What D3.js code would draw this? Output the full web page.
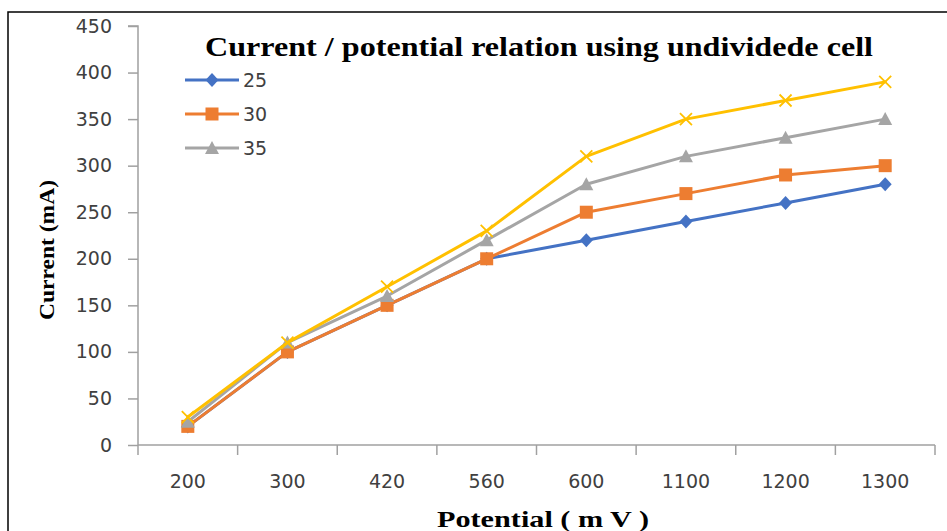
<!DOCTYPE html>
<html><head><meta charset="utf-8">
<script src="https://cdn.jsdelivr.net/npm/d3@7"></script>
<style>body{margin:0;background:#fff;} svg{display:block;}</style>
</head><body>
<svg id="chart" width="947" height="531"></svg>
<script>
const categories = ["200","300","420","560","600","1100","1200","1300"];
const series25 = [20,100,150,200,220,240,260,280];
const series30 = [20,100,150,200,250,270,290,300];
const series35 = [25,110,160,220,280,310,330,350];
const series40 = [30,110,170,230,310,350,370,390];
const yTicks = [0,50,100,150,200,250,300,350,400,450];
const legendNames = ["25","30","35"];

const seriesList = [
  {name:"25", values:series25, color:"#4472C4", marker:"diamond", legend:true},
  {name:"30", values:series30, color:"#ED7D31", marker:"square", legend:true},
  {name:"35", values:series35, color:"#A5A5A5", marker:"triangle", legend:true},
  {name:"40", values:series40, color:"#FFC000", marker:"x", legend:false}
];

const svg = d3.select("#chart");
svg.append("rect").attr("x",8).attr("y",12).attr("width",960).attr("height",540)
  .attr("fill","#fff").attr("stroke","#000").attr("stroke-width",1.5);

const x = d3.scaleBand().domain(categories).range([138,935]).paddingInner(0).paddingOuter(0);
const y = d3.scaleLinear().domain([0,450]).range([445,26]);
const cx = c => x(c) + x.bandwidth()/2;

const axisColor = "#a0a0a0";
// Y axis
const yAxis = d3.axisLeft(y).tickValues(yTicks).tickSize(10).tickPadding(16);
const gy = svg.append("g").attr("transform","translate(138,0)").call(yAxis);
gy.select(".domain").attr("stroke",axisColor).attr("stroke-width",1.5).attr("d","M-10,26H0V445");
gy.selectAll(".tick line").attr("stroke",axisColor).attr("stroke-width",1.5);
gy.selectAll(".tick text").attr("font-family","DejaVu Sans, Verdana, sans-serif").attr("font-size",19).attr("fill","#404040");

// X axis
const xAxis = d3.axisBottom(x).tickSize(0).tickPadding(30);
const gx = svg.append("g").attr("transform","translate(0,445)").call(xAxis);
gx.select(".domain").attr("stroke",axisColor).attr("stroke-width",1.5).attr("d","M138,0H935");
gx.selectAll(".tick text").attr("font-family","DejaVu Sans, Verdana, sans-serif").attr("font-size",19).attr("fill","#404040");
const bounds = categories.map(c => x(c)).concat([x.range()[1]]);
gx.selectAll(".bt").data(bounds).enter().append("line")
  .attr("x1",d=>d).attr("x2",d=>d).attr("y1",0).attr("y2",10)
  .attr("stroke",axisColor).attr("stroke-width",1.5);

function drawMarker(g, type, color, px, py) {
  if (type === "diamond") {
    g.append("path").attr("d",`M${px},${py-7}L${px+6.5},${py}L${px},${py+7}L${px-6.5},${py}Z`).attr("fill",color);
  } else if (type === "square") {
    g.append("rect").attr("x",px-6.5).attr("y",py-6.5).attr("width",13).attr("height",13).attr("fill",color);
  } else if (type === "triangle") {
    g.append("path").attr("d",`M${px},${py-7}L${px+7},${py+6}L${px-7},${py+6}Z`).attr("fill",color);
  } else if (type === "x") {
    g.append("path").attr("d",`M${px-6},${py-6}L${px+6},${py+6}M${px-6},${py+6}L${px+6},${py-6}`)
      .attr("stroke",color).attr("stroke-width",1.8).attr("fill","none");
  }
}

const line = d3.line().x((d,i)=>cx(categories[i])).y(d=>y(d));
seriesList.forEach(s => {
  const g = svg.append("g");
  g.append("path").datum(s.values).attr("d",line).attr("fill","none")
    .attr("stroke",s.color).attr("stroke-width",3).attr("stroke-linejoin","round").attr("stroke-linecap","round");
  s.values.forEach((v,i) => drawMarker(g, s.marker, s.color, cx(categories[i]), y(v)));
});

// Legend
const legendY = [80,114,148];
seriesList.filter(s=>s.legend).forEach((s,i) => {
  const g = svg.append("g");
  const ly = legendY[i];
  g.append("line").attr("x1",185).attr("x2",239).attr("y1",ly).attr("y2",ly).attr("stroke",s.color).attr("stroke-width",3);
  drawMarker(g, s.marker, s.color, 212, ly);
  g.append("text").attr("x",243).attr("y",ly).attr("dy","0.35em").text(legendNames[i])
    .attr("font-family","DejaVu Sans, Verdana, sans-serif").attr("font-size",19).attr("fill","#404040");
});

// Titles
svg.append("text").attr("x",539).attr("y",56).attr("text-anchor","middle")
  .attr("font-family","Liberation Serif, Times New Roman, serif").attr("font-weight","bold").attr("font-size",28)
  .attr("textLength",668).attr("lengthAdjust","spacingAndGlyphs").attr("fill","#000")
  .text("Current / potential relation using undividede cell");
svg.append("text").attr("x",543).attr("y",527).attr("text-anchor","middle")
  .attr("font-family","Liberation Serif, Times New Roman, serif").attr("font-weight","bold").attr("font-size",23)
  .attr("textLength",212).attr("lengthAdjust","spacingAndGlyphs").attr("fill","#000")
  .text("Potential  ( m V )");
svg.append("text").attr("transform","translate(54,250) rotate(-90)").attr("text-anchor","middle")
  .attr("font-family","Liberation Serif, Times New Roman, serif").attr("font-weight","bold").attr("font-size",22)
  .attr("textLength",140).attr("lengthAdjust","spacingAndGlyphs").attr("fill","#000")
  .text("Current (mA)");
</script>
</body></html>
